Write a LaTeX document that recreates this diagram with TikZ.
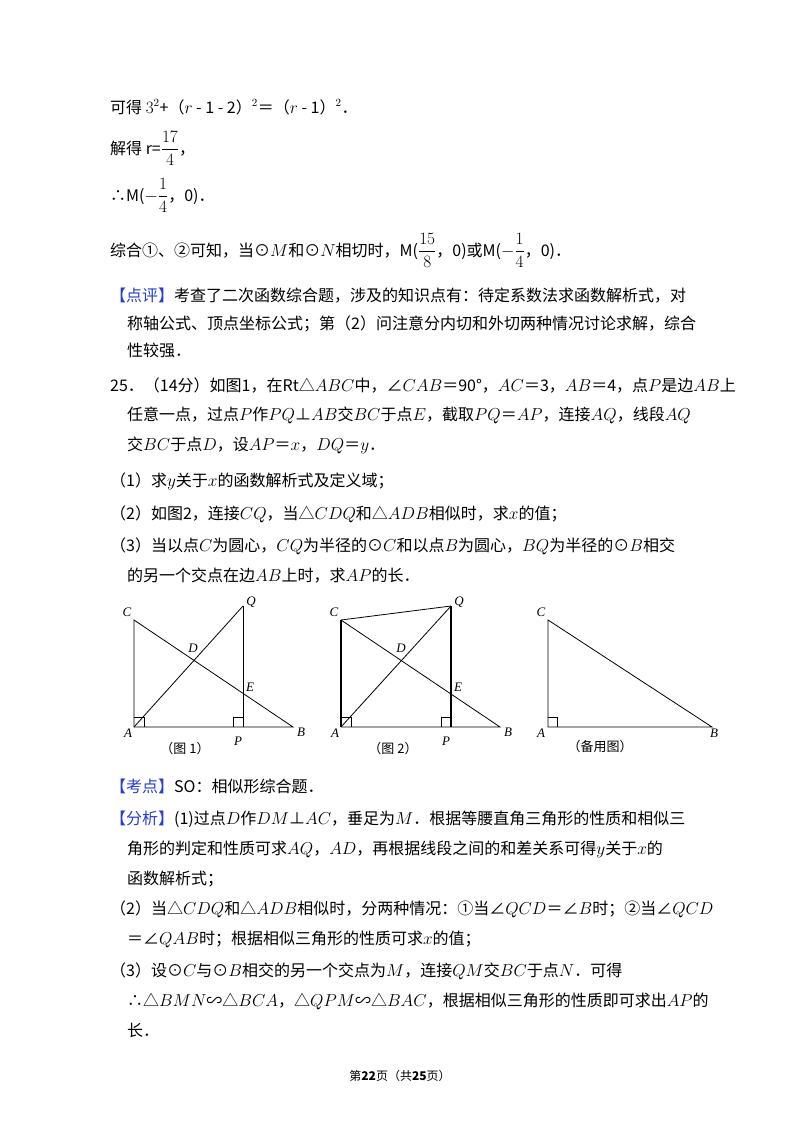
\documentclass[tikz,border=0pt]{standalone}
\usepackage{amsmath}
\usepackage{fontspec}
\setmainfont{Noto Sans CJK SC}
\newfontfamily\serif{Liberation Serif}
\XeTeXlinebreaklocale "zh"
\XeTeXlinebreakskip=0pt plus 4pt minus 0.5pt
\hbadness=10000 \hfuzz=50pt
\definecolor{tagblue}{RGB}{40,60,210}
\tikzset{line/.style={anchor=base west,inner sep=0pt,font=\fontsize{16}{20}\selectfont},
 lbl/.style={font=\fontsize{13}{15}\selectfont\serif\itshape,inner sep=0pt},
 captxt/.style={font=\fontsize{13}{15}\selectfont,inner sep=0pt},
 fig/.style={line width=0.8pt}}
\newcommand\tg[1]{\textcolor{tagblue}{#1}}
\newcommand\jb[2]{\hbox to #1{#2}}
\begin{document}
\begin{tikzpicture}[x=1pt,y=-1pt]
\useasboundingbox (0,0) rectangle (800,1132);
\node[line] (l1) at (110,113) {可得 $3^2$+（$r$ - 1 - 2）$^2$＝（$r$ - 1）$^2$．};
\node[line] (l2) at (110,154) {解得 r=$\dfrac{17}{4}$，};
\node[line] (l3) at (110,201) {∴M($-\dfrac14$，0)．};
\node[line] (l4) at (110,256) {综合①、②可知，当⊙$M$和⊙$N$相切时，M($\dfrac{15}{8}$，0)或M($-\dfrac14$，0)．};
\node[line] (p1) at (110,301) {\jb{580pt}{\tg{【点评】}考查了二次函数综合题，涉及的知识点有：待定系数法求函数解析式，对}};
\node[line] (p2) at (127,329) {\jb{563pt}{称轴公式、顶点坐标公式；第（2）问注意分内切和外切两种情况讨论求解，综合}};
\node[line] (p3) at (127,356) {性较强．};
\node[line] (q1) at (110,391) {\jb{580pt}{25．（14分）如图1，在Rt△$ABC$中，∠$CAB$＝90°，$AC$＝3，$AB$＝4，点$P$是边$AB$上}};
\node[line] (q2) at (127,420) {\jb{563pt}{任意一点，过点$P$作$PQ$⊥$AB$交$BC$于点$E$，截取$PQ$＝$AP$，连接$AQ$，线段$AQ$}};
\node[line] (q3) at (127,450) {交$BC$于点$D$，设$AP$＝$x$，$DQ$＝$y$．};
\node[line] (q4) at (110,486) {（1）求$y$关于$x$的函数解析式及定义域；};
\node[line] (q5) at (110,519) {（2）如图2，连接$CQ$，当△$CDQ$和△$ADB$相似时，求$x$的值；};
\node[line] (q6) at (110,551) {\jb{580pt}{（3）当以点$C$为圆心，$CQ$为半径的⊙$C$和以点$B$为圆心，$BQ$为半径的⊙$B$相交}};
\node[line] (q7) at (127,581) {的另一个交点在边$AB$上时，求$AP$的长．};
% fig 1
\begin{scope}[fig]
\coordinate (A1) at (134,727); \coordinate (B1) at (293,727); \coordinate (C1) at (134,620);
\coordinate (P1) at (243,727); \coordinate (Q1) at (243,606);
\draw (C1) -- (A1) -- (B1) -- cycle; \draw (A1) -- (Q1); \draw (P1) -- (Q1);
\draw (134,717) -- (144,717) -- (144,727); \draw (233,727) -- (233,717) -- (243,717);
\node[lbl] (tC1) at (127,612) {C}; \node[lbl] (tQ1) at (251,602) {Q};
\node[lbl] (tD1) at (193,648) {D}; \node[lbl] (tE1) at (250,687) {E};
\node[lbl] (tA1) at (128,733) {A}; \node[lbl] (tP1) at (238,741) {P}; \node[lbl] (tB1) at (301,732) {B};
\node[captxt] (c1) at (185,749) {（图 1）};
% fig 2
\coordinate (A2) at (341,727); \coordinate (B2) at (500,727); \coordinate (C2) at (341,620);
\coordinate (P2) at (451,727); \coordinate (Q2) at (451,606);
\draw (C2) -- (B2) -- (A2); \draw[line width=1.2pt] (A2) -- (C2); \draw (A2) -- (Q2); \draw[line width=1.2pt] (P2) -- (Q2);
\draw (C2) -- (Q2);
\draw (341,717) -- (351,717) -- (351,727); \draw (441,727) -- (441,717) -- (451,717);
\node[lbl] (tC2) at (334,612) {C}; \node[lbl] (tQ2) at (459,602) {Q};
\node[lbl] (tD2) at (401,648) {D}; \node[lbl] (tE2) at (458,687) {E};
\node[lbl] (tA2) at (335,733) {A}; \node[lbl] (tP2) at (446,741) {P}; \node[lbl] (tB2) at (508,732) {B};
\node[captxt] (c2) at (393,749) {（图 2）};
% fig 3
\coordinate (A3) at (548,727); \coordinate (B3) at (712,727); \coordinate (C3) at (548,620);
\draw (C3) -- (A3) -- (B3) -- cycle;
\draw (548,717) -- (557,717) -- (557,727);
\node[lbl] (tC3) at (541,612) {C}; \node[lbl] (tA3) at (541,733) {A}; \node[lbl] (tB3) at (714,733) {B};
\node[captxt] (c3) at (600,747) {（备用图）};
\end{scope}
\node[line] (k1) at (110,792) {\tg{【考点】}SO：相似形综合题．};
\node[line] (f1) at (110,824) {\jb{580pt}{\tg{【分析】}(1)过点$D$作$DM$⊥$AC$，垂足为$M$．根据等腰直角三角形的性质和相似三}};
\node[line] (f2) at (127,854) {\jb{563pt}{角形的判定和性质可求$AQ$，$AD$，再根据线段之间的和差关系可得$y$关于$x$的}};
\node[line] (f3) at (127,884) {函数解析式；};
\node[line] (f4) at (110,914) {\jb{580pt}{（2）当△$CDQ$和△$ADB$相似时，分两种情况：①当∠$QCD$＝∠$B$时；②当∠$QCD$}};
\node[line] (f5) at (127,944) {＝∠$QAB$时；根据相似三角形的性质可求$x$的值；};
\node[line] (f6) at (110,976) {\jb{580pt}{（3）设⊙$C$与⊙$B$相交的另一个交点为$M$，连接$QM$交$BC$于点$N$．可得}};
\node[line] (f7) at (127,1006) {\jb{563pt}{∴△$BMN$∽△$BCA$，△$QPM$∽△$BAC$，根据相似三角形的性质即可求出$AP$的}};
\node[line] (f8) at (127,1036) {长．};
\node[captxt,font=\fontsize{12}{14}\selectfont] (ft) at (400,1076) {第\textbf{22}页（共\textbf{25}页）};
\end{tikzpicture}
\end{document}
